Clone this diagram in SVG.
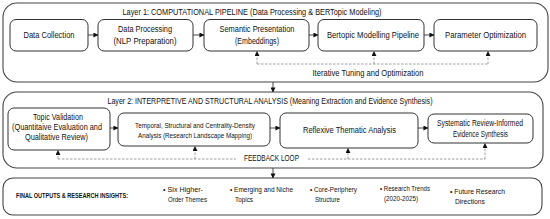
<svg xmlns="http://www.w3.org/2000/svg" width="550" height="219" viewBox="0 0 550 219">
<defs>
<marker id="ah" viewBox="0 0 6 6" refX="5.5" refY="3" markerWidth="5" markerHeight="5" orient="auto" markerUnits="userSpaceOnUse">
<path d="M0,0 L6,3 L0,6 Z" fill="#111"/>
</marker>
<style>
.layer{fill:#fff;stroke:#444;stroke-width:1.1}
.node{fill:#fff;stroke:#333;stroke-width:1}
.t{font-family:"Liberation Sans",Arial,sans-serif;fill:#111;text-anchor:middle}
.title{font-size:9.4px}
.n{font-size:8.5px}
.s{font-size:7.4px}
.f{font-size:6.6px;text-anchor:start}
.fb{font-size:6.6px;font-weight:bold;text-anchor:start}
.sol{stroke:#333;stroke-width:0.9;fill:none}
.dash{stroke:#888;stroke-width:0.8;fill:none;stroke-dasharray:2.5,1.5}
.dasha{stroke:#888;stroke-width:0.8;fill:none;stroke-dasharray:2.5,1.5}
</style>
</defs>
<rect width="550" height="219" fill="#fff"/>

<g id="layer1">
<rect class="layer" x="3" y="3" width="545" height="79" rx="14"/>
<text class="t title" x="252" y="15" textLength="259" lengthAdjust="spacingAndGlyphs">Layer 1: COMPUTATIONAL PIPELINE (Data Processing &amp; BERTopic Modeling)</text>
</g>
<g id="data-collection">
<rect class="node" x="10" y="19.5" width="78" height="31.5" rx="6"/>
<text class="t n" x="49" y="38" textLength="51" lengthAdjust="spacingAndGlyphs">Data Collection</text>
</g>
<g id="data-processing">
<rect class="node" x="98" y="19.5" width="95" height="31.5" rx="6"/>
<text class="t n" x="145" y="32" textLength="54" lengthAdjust="spacingAndGlyphs">Data Processing</text>
<text class="t n" x="145" y="44" textLength="63" lengthAdjust="spacingAndGlyphs">(NLP Preparation)</text>
</g>
<g id="semantic">
<rect class="node" x="204" y="19.5" width="105" height="31.5" rx="6"/>
<text class="t n" x="257" y="32" textLength="75" lengthAdjust="spacingAndGlyphs">Semantic Presentation</text>
<text class="t n" x="257" y="44" textLength="44" lengthAdjust="spacingAndGlyphs">(Embeddings)</text>
</g>
<g id="bertopic">
<rect class="node" x="318" y="19.5" width="106" height="31.5" rx="6"/>
<text class="t n" x="373" y="38" textLength="92" lengthAdjust="spacingAndGlyphs">Bertopic Modelling Pipeline</text>
</g>
<g id="parameter">
<rect class="node" x="434" y="19.5" width="103" height="31.5" rx="6"/>
<text class="t n" x="485.5" y="38" textLength="81" lengthAdjust="spacingAndGlyphs">Parameter Optimization</text>
</g>

<g id="layer2">
<rect class="layer" x="3" y="92" width="540" height="76" rx="14"/>
<text class="t title" x="270" y="104" textLength="325" lengthAdjust="spacingAndGlyphs">Layer 2: INTERPRETIVE AND STRUCTURAL ANALYSIS (Meaning Extraction and Evidence Synthesis)</text>
</g>
<g id="topic-validation">
<rect class="node" x="8" y="108" width="102" height="42" rx="6"/>
<text class="t n" x="58" y="120" textLength="50" lengthAdjust="spacingAndGlyphs">Topic Validation</text>
<text class="t n" x="57" y="130" textLength="90" lengthAdjust="spacingAndGlyphs">(Quantitaive Evaluation and</text>
<text class="t n" x="56.5" y="140" textLength="63" lengthAdjust="spacingAndGlyphs">Qualitative Review)</text>
</g>
<g id="temporal">
<rect class="node" x="118" y="113" width="152" height="33" rx="6"/>
<text class="t s" x="195" y="128" textLength="120" lengthAdjust="spacingAndGlyphs">Temporal, Structural and Centrality-Density</text>
<text class="t s" x="195" y="138" textLength="114" lengthAdjust="spacingAndGlyphs">Analysis (Research Landscape Mapping)</text>
</g>
<g id="reflexive">
<rect class="node" x="280" y="113" width="138" height="35" rx="6"/>
<text class="t n" x="349.5" y="133" textLength="93" lengthAdjust="spacingAndGlyphs">Reflexive Thematic Analysis</text>
</g>
<g id="systematic">
<rect class="node" x="428" y="114" width="105" height="29" rx="6"/>
<text class="t n" x="480" y="126" textLength="86" lengthAdjust="spacingAndGlyphs">Systematic Review-Informed</text>
<text class="t n" x="480.5" y="137" textLength="55" lengthAdjust="spacingAndGlyphs">Evidence Synthesis</text>
</g>

<g id="final-outputs">
<rect class="layer" x="3" y="178" width="539" height="37" rx="10"/>
<text class="t fb" x="16" y="198" textLength="112" lengthAdjust="spacingAndGlyphs">FINAL OUTPUTS &amp; RESEARCH INSIGHTS:</text>
<text class="t f" x="163" y="192" textLength="40" lengthAdjust="spacingAndGlyphs">• Six Higher-</text>
<text class="t f" x="168" y="202" textLength="39" lengthAdjust="spacingAndGlyphs">Order Themes</text>
<text class="t f" x="230" y="192" textLength="63" lengthAdjust="spacingAndGlyphs">• Emerging and Niche</text>
<text class="t f" x="235" y="202" textLength="18" lengthAdjust="spacingAndGlyphs">Topics</text>
<text class="t f" x="310" y="192" textLength="47" lengthAdjust="spacingAndGlyphs">• Core-Periphery</text>
<text class="t f" x="315" y="202" textLength="25" lengthAdjust="spacingAndGlyphs">Structure</text>
<text class="t f" x="380" y="191" textLength="50" lengthAdjust="spacingAndGlyphs">• Research Trends</text>
<text class="t f" x="384" y="201" textLength="34" lengthAdjust="spacingAndGlyphs">(2020-2025)</text>
<text class="t f" x="450" y="194" textLength="55" lengthAdjust="spacingAndGlyphs">• Future Research</text>
<text class="t f" x="455" y="204" textLength="30" lengthAdjust="spacingAndGlyphs">Directions</text>
</g>

<g id="connectors">
<line class="sol" x1="88" y1="35" x2="98" y2="35" marker-end="url(#ah)"/>
<line class="sol" x1="193" y1="35" x2="204" y2="35" marker-end="url(#ah)"/>
<line class="sol" x1="309" y1="35" x2="318" y2="35" marker-end="url(#ah)"/>
<line class="sol" x1="424" y1="35" x2="434" y2="35" marker-end="url(#ah)"/>
<path class="dash" d="M257,64 H488"/>
<line class="dasha" x1="257" y1="64" x2="257" y2="51.5" marker-end="url(#ah)"/>
<line class="dasha" x1="374" y1="64" x2="374" y2="51.5" marker-end="url(#ah)"/>
<line class="dasha" x1="488" y1="64" x2="488" y2="51.5" marker-end="url(#ah)"/>
<text class="t n" x="368" y="76" textLength="111" lengthAdjust="spacingAndGlyphs">Iterative Tuning and Optimization</text>
<line class="sol" x1="273" y1="82" x2="273" y2="92" marker-end="url(#ah)"/>
<line class="sol" x1="110" y1="128" x2="118" y2="128" marker-end="url(#ah)"/>
<line class="sol" x1="270" y1="128" x2="280" y2="128" marker-end="url(#ah)"/>
<line class="sol" x1="418" y1="128" x2="428" y2="128" marker-end="url(#ah)"/>
<path class="dash" d="M58,159 H236 M308,159 H485"/>
<line class="dasha" x1="58" y1="159" x2="58" y2="150.5" marker-end="url(#ah)"/>
<line class="dasha" x1="195" y1="159" x2="195" y2="146.5" marker-end="url(#ah)"/>
<line class="dasha" x1="348" y1="159" x2="348" y2="148.5" marker-end="url(#ah)"/>
<line class="dasha" x1="485" y1="159" x2="485" y2="143.5" marker-end="url(#ah)"/>
<text class="t n" x="271.5" y="161" textLength="55" lengthAdjust="spacingAndGlyphs">FEEDBACK LOOP</text>
<line class="sol" x1="273" y1="168" x2="273" y2="178" marker-end="url(#ah)"/>
</g>
</svg>
